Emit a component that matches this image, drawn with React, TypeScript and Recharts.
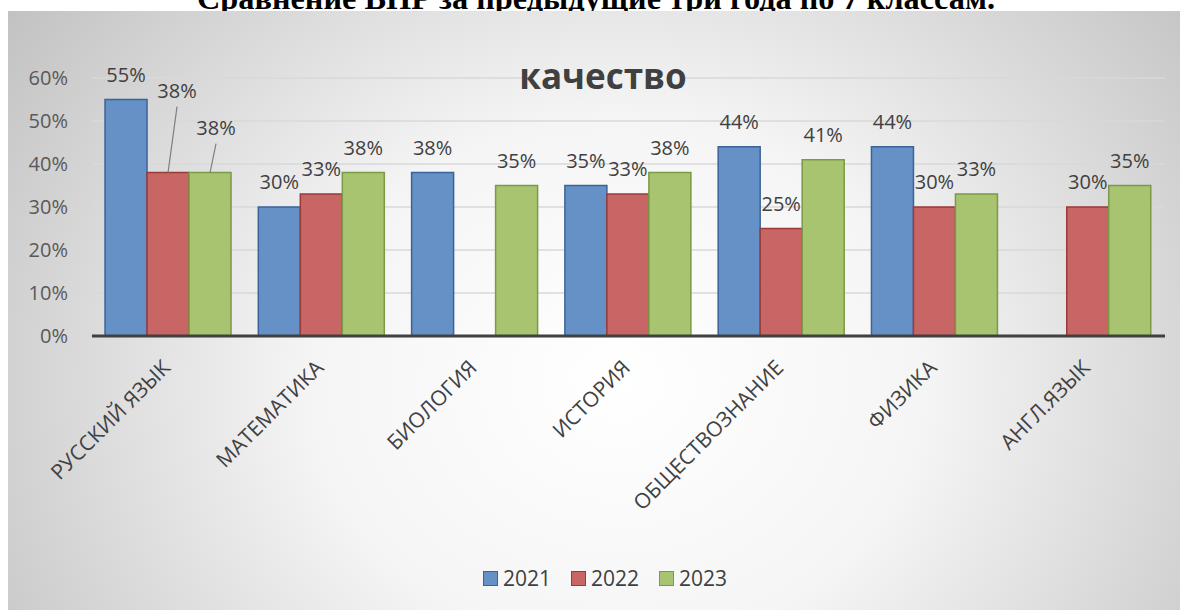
import React from "react";
import { BarChart, Bar, XAxis, YAxis, CartesianGrid, Legend, LabelList } from "recharts";

const categories = [
  "РУССКИЙ ЯЗЫК",
  "МАТЕМАТИКА",
  "БИОЛОГИЯ",
  "ИСТОРИЯ",
  "ОБЩЕСТВОЗНАНИЕ",
  "ФИЗИКА",
  "АНГЛ.ЯЗЫК",
];
const values2021 = [55, 30, 38, 35, 44, 44, null];
const values2022 = [38, 33, null, 33, 25, 30, 30];
const values2023 = [38, 38, 35, 38, 41, 33, 35];
const yTicks = [0, 10, 20, 30, 40, 50, 60];

const FONT = "'Open Sans', 'Noto Sans', sans-serif";
const TEXT = "#404040";

const SERIES = [
  { key: "y2021", name: "2021", fill: "#6591c7", stroke: "#3b6399" },
  { key: "y2022", name: "2022", fill: "#c76664", stroke: "#9b3b39" },
  { key: "y2023", name: "2023", fill: "#a8c470", stroke: "#7a9a45" },
];

// labels that were dragged away from their bars, with a leader line
const LABEL_SHIFT: Record<string, Record<number, { dx: number; dy: number; len: number }>> = {
  y2022: { 0: { dx: 9, dy: -57, len: 66 } },
  y2023: { 0: { dx: 6, dy: -20, len: 29 } },
};

const data = categories.map((name, i) => ({
  name,
  y2021: values2021[i],
  y2022: values2022[i],
  y2023: values2023[i],
}));

const makeLabel = (key: string) => (props: any) => {
  const { x, y, width, value, index } = props;
  if (value == null) return null;
  const cx = Number(x) + Number(width) / 2;
  const top = Number(y);
  const shift = LABEL_SHIFT[key]?.[index];
  const tx = cx + (shift ? shift.dx : 0);
  const ty = top - 18 + (shift ? shift.dy : 0);
  return (
    <g>
      {shift && (
        <line x1={cx} y1={top} x2={cx + shift.dx} y2={top - shift.len} stroke="#7f7f7f" strokeWidth={1.2} />
      )}
      <text x={tx} y={ty} textAnchor="middle" fontFamily={FONT} fontSize={20} fill={TEXT}>
        {`${value}%`}
      </text>
    </g>
  );
};

const CategoryTick = (props: any) => {
  const { x, y, payload } = props;
  return (
    <text
      transform={`translate(${x + 3}, ${y + 31}) rotate(-45)`}
      textAnchor="end"
      fontFamily={FONT}
      fontSize={21}
      fill={TEXT}
    >
      {payload.value}
    </text>
  );
};

const renderLegend = () => (
  <div
    style={{
      display: "flex",
      justifyContent: "center",
      gap: 20,
      paddingLeft: 22,
      fontFamily: FONT,
      fontSize: 21,
      color: TEXT,
      lineHeight: "28px",
    }}
  >
    {SERIES.map((s) => (
      <span key={s.key} style={{ display: "flex", alignItems: "center" }}>
        <span
          style={{
            width: 13,
            height: 13,
            background: s.fill,
            border: `1.5px solid ${s.stroke}`,
            marginRight: 5,
          }}
        />
        {s.name}
      </span>
    ))}
  </div>
);

export default function App() {
  return (
    <div style={{ position: "absolute", left: 0, top: 0, width: 1180, height: 610, overflow: "hidden", background: "#fff" }}>
      <svg width={1180} height={14} style={{ position: "absolute", left: 0, top: 0 }}>
        <text
          x={596}
          y={9}
          textAnchor="middle"
          fontFamily="'Liberation Serif', serif"
          fontWeight="bold"
          fontSize={32}
          textLength={798}
          lengthAdjust="spacingAndGlyphs"
          fill="#000"
        >
          Сравнение ВПР за предыдущие три года по 7 классам.
        </text>
      </svg>
      <div
        style={{
          position: "absolute",
          left: 8,
          top: 11,
          width: 1172,
          height: 599,
          background:
            "radial-gradient(ellipse 65% 110% at 52% 62%, #ffffff 0%, #f5f5f5 40%, #c0c0c0 100%)",
        }}
      >
        <BarChart
          width={1172}
          height={599}
          data={data}
          margin={{ top: 67, right: 15, bottom: 0, left: 24 }}
          barCategoryGap="8.5%"
          barGap={0}
        >
          <CartesianGrid vertical={false} stroke="#d9d9d9" strokeWidth={1.5} />
          <XAxis
            dataKey="name"
            interval={0}
            height={274}
            tickLine={false}
            tickSize={0}
            tick={<CategoryTick />}
            axisLine={{ stroke: "#404040", strokeWidth: 3 }}
          />
          <YAxis
            domain={[0, 60]}
            ticks={yTicks}
            tickFormatter={(v: number) => `${v}%`}
            axisLine={false}
            tickLine={false}
            tickSize={0}
            tickMargin={24}
            width={60}
            tick={{ fill: "#595959", fontSize: 20, fontFamily: FONT }}
          />
          <Legend
            verticalAlign="middle"
            align="center"
            content={renderLegend}
            wrapperStyle={{ top: 553, left: 0, width: 1172 }}
          />
          {SERIES.map((s) => (
            <Bar
              key={s.key}
              dataKey={s.key}
              name={s.name}
              fill={s.fill}
              stroke={s.stroke}
              strokeWidth={1.5}
              isAnimationActive={false}
            >
              <LabelList dataKey={s.key} content={makeLabel(s.key)} />
            </Bar>
          ))}
        </BarChart>
        <svg width={1172} height={120} style={{ position: "absolute", left: 0, top: 0, pointerEvents: "none" }}>
          <rect x={515} y={62} width={162} height={10} fill="#f0f0f0" />
          <text x={595} y={78} textAnchor="middle" fontFamily={FONT} fontWeight="bold" fontSize={35} fill={TEXT}>
            качество
          </text>
        </svg>
      </div>
    </div>
  );
}
